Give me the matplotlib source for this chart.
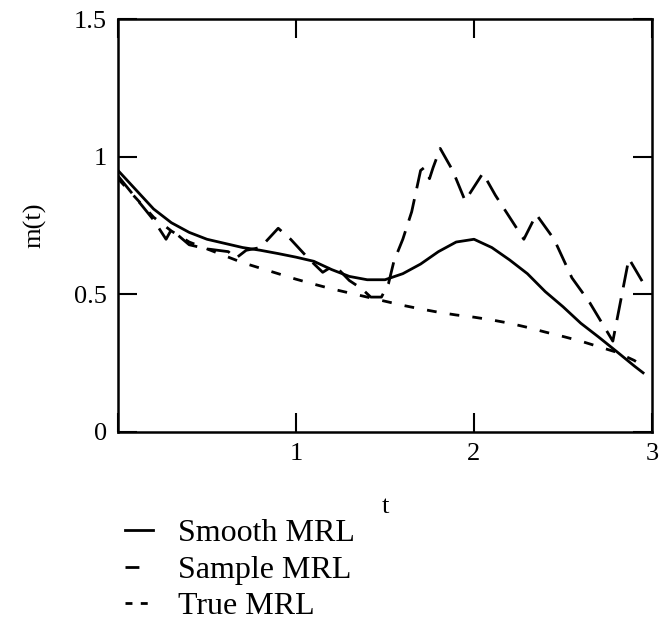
import matplotlib.pyplot as plt
from matplotlib.lines import Line2D

plt.rcParams['font.family'] = ['Liberation Serif', 'DejaVu Serif']
plt.rcParams['lines.scale_dashes'] = False

# сглаженная оценка MRL
t_smooth = [0.0, 0.1, 0.2, 0.3, 0.4, 0.5, 0.6, 0.7, 0.8, 0.9, 1.0, 1.1, 1.2, 1.3,
            1.4, 1.5, 1.6, 1.7, 1.8, 1.9, 2.0, 2.1, 2.2, 2.3, 2.4, 2.5, 2.6, 2.7,
            2.8, 2.9, 2.95]
m_smooth = [0.95, 0.88, 0.81, 0.76, 0.725, 0.70, 0.685, 0.67, 0.66, 0.648, 0.635,
            0.62, 0.59, 0.565, 0.553, 0.553, 0.575, 0.61, 0.655, 0.69, 0.70, 0.67,
            0.625, 0.575, 0.51, 0.455, 0.395, 0.345, 0.293, 0.24, 0.215]

# выборочная MRL (пилообразная)
t_sample = [0.0, 0.1, 0.2, 0.27, 0.30, 0.4, 0.5, 0.62, 0.66, 0.72, 0.80, 0.90,
            0.97, 1.07, 1.15, 1.20, 1.24, 1.30, 1.37, 1.42, 1.48, 1.52, 1.55,
            1.60, 1.65, 1.68, 1.70, 1.72, 1.75, 1.77, 1.81, 1.88, 1.95,
            2.05, 2.12, 2.20, 2.28, 2.35, 2.45, 2.55, 2.65, 2.78, 2.87, 2.97]
m_sample = [0.93, 0.85, 0.77, 0.70, 0.735, 0.68, 0.665, 0.655, 0.63, 0.66, 0.67,
            0.74, 0.70, 0.63, 0.58, 0.60, 0.59, 0.55, 0.52, 0.49, 0.49, 0.54, 0.62,
            0.70, 0.80, 0.89, 0.95, 0.96, 0.92, 0.96, 1.03, 0.95, 0.84,
            0.94, 0.86, 0.78, 0.70, 0.79, 0.70, 0.56, 0.47, 0.33, 0.63, 0.52]

# истинная MRL
t_true = [0.0, 0.1, 0.2, 0.3, 0.4, 0.5, 0.6, 0.7, 0.8, 0.9, 1.0, 1.1, 1.2, 1.3,
          1.4, 1.5, 1.6, 1.7, 1.8, 1.9, 2.0, 2.1, 2.2, 2.3, 2.4, 2.5, 2.6, 2.7,
          2.8, 2.9, 2.95]
m_true = [0.92, 0.85, 0.78, 0.73, 0.69, 0.665, 0.64, 0.615, 0.595, 0.575, 0.555,
          0.537, 0.52, 0.505, 0.49, 0.475, 0.46, 0.447, 0.435, 0.425, 0.417,
          0.407, 0.395, 0.38, 0.363, 0.347, 0.33, 0.31, 0.29, 0.26, 0.24]

labels = ['Smooth MRL', 'Sample MRL', 'True MRL']

fig = plt.figure(figsize=(6.6, 6.28), dpi=100)
ax = fig.add_axes([118 / 660, 1 - 432 / 628, (652 - 118) / 660, (432 - 19) / 628])

ax.plot(t_smooth, m_smooth, color='black', lw=2)
ax.plot(t_sample, m_sample, color='black', lw=2, dashes=(16, 8))
ax.plot(t_true, m_true, color='black', lw=2, dashes=(7, 9.5))

ax.set_xlim(0, 3)
ax.set_ylim(0, 1.5)
ax.set_xticks([0, 1, 2, 3])
ax.set_yticks([0, 0.5, 1, 1.5])
ax.set_xticklabels(['', '1', '2', '3'])
ax.set_yticklabels(['0', '0.5', '1', '1.5'])
ax.tick_params(direction='in', length=14, width=1.5, top=True, right=True,
               labelsize=19, pad=8)
for s in ax.spines.values():
    s.set_linewidth(1.8)

ax.set_xlabel('t', fontsize=19, labelpad=22)
ax.set_ylabel('m(t)', fontsize=19, labelpad=20)

# легенда с отдельными образцами линий
handles = [Line2D([], [], color='black', lw=2),
           Line2D([], [], color='black', lw=2, dashes=(10, 20)),
           Line2D([], [], color='black', lw=2, dashes=(5, 6))]
fig.legend(handles, labels, loc='upper left',
           bbox_to_anchor=(125 / 660, 1 - 519 / 628),
           frameon=False, fontsize=23, handlelength=0.875, handletextpad=0.78,
           labelspacing=0.225, borderpad=0, borderaxespad=0)

fig.savefig('out.png')
